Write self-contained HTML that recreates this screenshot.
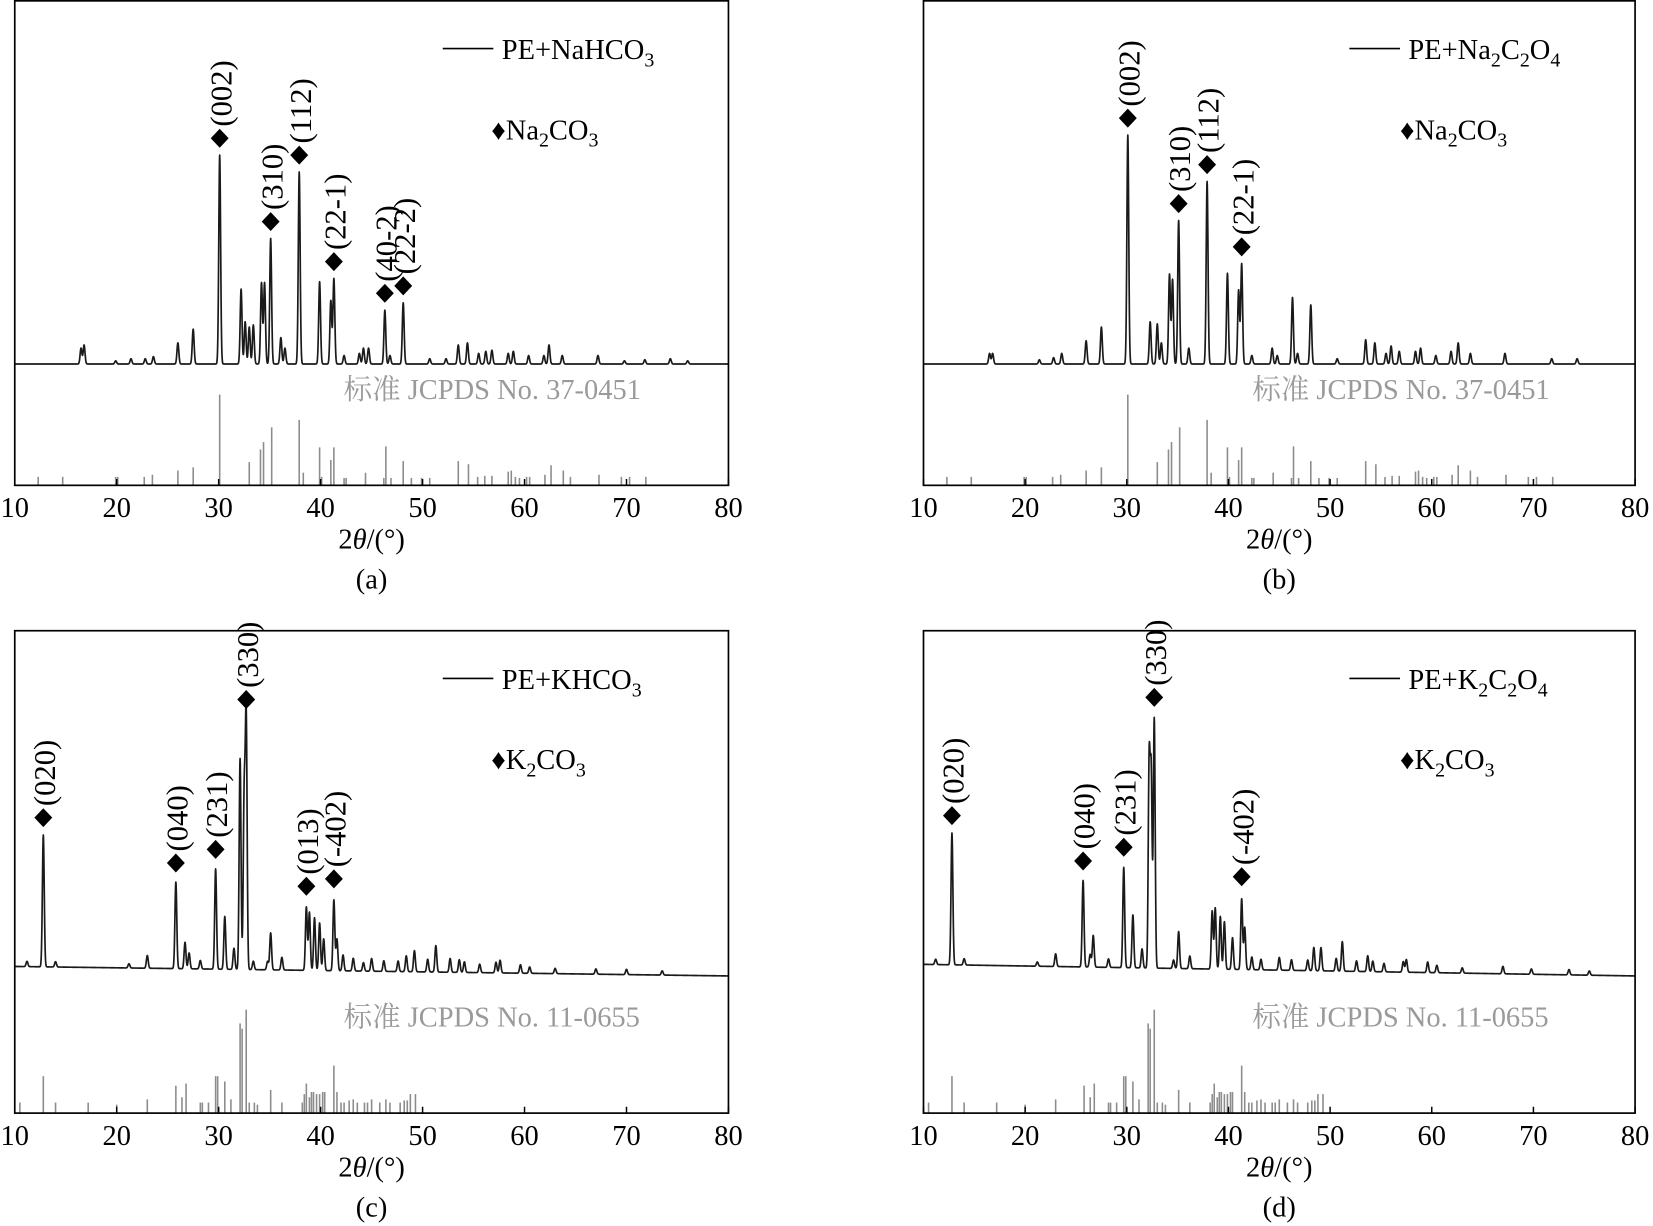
<!DOCTYPE html>
<html><head><meta charset="utf-8"><style>
html,body{margin:0;padding:0;background:#fff;}
svg{display:block;}
svg text, svg tspan{font-family:"Liberation Serif","Times New Roman",Times,serif;}
svg text.cjk{font-family:"Liberation Serif","Noto Serif CJK SC","Noto Sans CJK SC",serif;}
</style></head><body>
<svg id="fig" width="1653" height="1226" viewBox="0 0 1568 1162" preserveAspectRatio="none" xmlns="http://www.w3.org/2000/svg"></svg>
<script>
// ---- data (2θ in degrees, intensity in arbitrary units) ----
const ticks = [10,20,30,40,50,60,70,80];
const aPeakPos = [16.5,16.8,19.9,21.4,22.8,23.6,26,27.5,30.1,32.2,32.6,33,33.4,34.2,34.5,35.1,36.1,36.5,37.9,39.9,41,41.3,42.3,43.8,44.2,44.7,46.3,46.8,48.1,50.7,52.3,53.5,54.4,55.5,56.2,56.8,58.4,58.9,60.4,61.9,62.4,63.7,67.2,69.8,71.8,74.3,76];
const aPeakInt = [15,18,3,5,5,7,20,33,198,71,40,35,37,77,77,119,25,15,182,78,60,81,8,10,15,15,51,8,58,5,5,18,20,10,12,13,10,12,8,8,18,8,8,3,4,5,3];
const bPeakPos = [16.5,16.8,21.4,22.8,23.6,26,27.5,30.1,32.3,33,33.4,34.2,34.5,35.1,36.1,37.9,39.9,41,41.3,42.3,44.3,44.8,46.3,46.8,48.1,50.7,53.5,54.4,55.5,56,56.8,58.4,58.9,60.4,61.9,62.6,63.8,67.2,71.8,74.3];
const bPeakInt = [10,10,4,6,10,22,35,217,40,38,20,85,80,136,15,173,86,70,95,8,15,8,63,10,56,5,23,20,10,17,12,12,15,8,12,20,10,10,5,5];
const cPeakPos = [11.2,12.8,14,21.2,23,25.8,26.7,27.1,28.2,29.7,30.6,31.5,32.1,32.5,32.7,33.4,34.8,35.1,36.2,38.6,38.9,39.4,39.9,40.3,41.3,41.6,42.2,43.2,44.2,45,46.2,47.6,48.4,49.2,50.5,51.3,52.7,53.6,54.1,55.6,57.2,57.6,59.6,60.5,63,67,70,73.5];
const cPeakInt = [5,125,5,4,12,82,25,15,8,95,50,20,200,160,237,8,8,35,12,60,55,50,45,30,67,30,15,12,8,12,10,10,15,20,12,25,13,12,10,8,10,12,8,6,5,5,5,4];
const dPeakPos = [11.2,12.8,14,21.2,23,25.7,26.4,26.7,28.2,29.7,30.6,31.5,32.2,32.4,32.7,34.6,35.1,36.2,38.4,38.7,39.2,39.6,40.4,41.3,41.6,42.3,43.2,45,46.2,47.8,48.4,49.1,50.6,51.2,52.6,53.7,54.2,55.3,57.2,57.5,59.6,60.5,63,67,69.8,73.5,75.5];
const dPeakInt = [5,125,6,4,12,82,12,30,8,95,50,18,195,180,237,8,35,12,55,58,50,45,30,67,40,12,10,12,10,10,22,22,12,28,10,15,10,8,10,12,10,7,5,7,5,5,4];
const naRefPos = [12.3,14.7,19.9,20.1,22.7,23.5,26,27.5,30.1,33,34.1,34.4,35.2,37.9,38.3,39.9,40.1,41,41.3,42.3,42.5,44.4,46.2,46.4,46.9,48.1,48.9,49.9,50.7,53.5,54.5,55.4,56.1,56.8,58.4,58.7,59.1,59.5,60.2,60.5,62,62.6,63.8,64.5,67.3,69.5,70.3,71.9];
const naRefInt = [8,8,8,8,8,10,14,17,86,22,34,41,55,62,12,36,8,24,36,7,7,12,7,37,7,23,7,7,7,23,20,8,9,9,13,14,8,7,8,8,10,19,14,8,10,8,8,8];
const kRefPos = [10.5,12.8,14,17.2,20,23,25.8,26.4,26.8,28.2,28.4,29,29.7,29.9,30.6,31.2,32.1,32.3,32.7,33,33.5,33.8,35.1,36.2,38.2,38.4,38.6,38.9,39.1,39.3,39.6,39.9,40.2,40.4,41.3,41.6,42,42.3,42.8,43.2,43.6,44.3,44.6,45,45.8,46.4,46.8,47.8,48.2,48.5,48.8,49.3];
const kRefInt = [10,35,10,10,8,13,26,15,28,10,10,10,35,35,30,13,85,80,98,10,10,8,22,10,10,18,28,15,20,20,18,18,20,20,45,20,10,10,12,13,10,10,10,13,10,13,10,10,12,12,18,18];
const aLabels = [[30.1,"(002)"],[35.1,"(310)"],[37.9,"(112)"],[41.3,"(22-1)"],[46.3,"(40-2)"],[48.1,"(22-2)"]];
const bLabels = [[30.1,"(002)"],[35.1,"(310)"],[37.9,"(112)"],[41.3,"(22-1)"]];
const cLabels = [[12.8,"(020)"],[25.8,"(040)"],[29.7,"(231)"],[32.7,"(330)"],[38.6,"(013)"],[41.3,"(-402)"]];
const dLabels = [[12.8,"(020)"],[25.7,"(040)"],[29.7,"(231)"],[32.7,"(330)"],[41.3,"(-402)"]];

const NS = "http://www.w3.org/2000/svg";
const svg = document.getElementById('fig');
function mk(tag, attrs, parent){const e=document.createElementNS(NS,tag);for(const k in attrs)e.setAttribute(k,attrs[k]);(parent||svg).appendChild(e);return e;}

const panels = [
 {id:'a',x0:14,x1:691,top:0,bot:460,base:345,pos:aPeakPos,int:aPeakInt,rp:naRefPos,ri:naRefInt,labels:aLabels,leg:'Na',sample:['PE+NaHCO','3',''],std:['标准',' JCPDS No. 37-0451'],bg:[0,0]},
 {id:'b',x0:876,x1:1551,top:0,bot:460,base:345,pos:bPeakPos,int:bPeakInt,rp:naRefPos,ri:naRefInt,labels:bLabels,leg:'Na',sample:['PE+Na','2','C','2','O','4'],std:['标准',' JCPDS No. 37-0451'],bg:[0,0]},
 {id:'c',x0:14,x1:691,top:597,bot:1055,base:926,pos:cPeakPos,int:cPeakInt,rp:kRefPos,ri:kRefInt,labels:cLabels,leg:'K',sample:['PE+KHCO','3',''],std:['标准',' JCPDS No. 11-0655'],bg:[10,1]},
 {id:'d',x0:876,x1:1551,top:597,bot:1055,base:926,pos:dPeakPos,int:dPeakInt,rp:kRefPos,ri:kRefInt,labels:dLabels,leg:'K',sample:['PE+K','2','C','2','O','4'],std:['标准',' JCPDS No. 11-0655'],bg:[12,1]}
];

function subText(parent, x, y, parts, fs, name){
  const t = mk('text',{x:x,y:y,'font-size':fs,fill:'#000'},parent);
  
  
  parts.forEach((p,i)=>{ if(!p) return;
    const s = mk('tspan',{},t);
    if(i%2===1){s.setAttribute('font-size',fs*0.7);s.setAttribute('dy',7);} else if(i>0){s.setAttribute('dy',-7);}
    s.textContent=p;});
  return t;
}

panels.forEach(P=>{
  const g = mk('g',{});
  
  
  const X = t => P.x0 + (t-10)*(P.x1-P.x0)/70;
  const Y = v => P.base - v;
  const sig = 0.09;
  let d='';
  for(let t=10;t<=80.0001;t+=0.02){
    let v = P.bg[0] + (P.bg[1]-P.bg[0])*(t-10)/70;
    for(let i=0;i<P.pos.length;i++){const dx=t-P.pos[i]; if(Math.abs(dx)<1) v += P.int[i]*Math.exp(-dx*dx/(2*sig*sig));}
    d += (d?'L':'M')+X(t).toFixed(2)+','+Y(v).toFixed(2);
  }
  const path = mk('path',{d:d,fill:'none',stroke:'#1a1a1a','stroke-width':1.6,'stroke-linejoin':'round'},g);
  
  
  P.rp.forEach((t,i)=>{
    const l = mk('line',{x1:X(t),x2:X(t),y1:P.bot,y2:P.bot-P.ri[i],stroke:'#8c8c8c','stroke-width':1.5},g);
    
    
  });
  const fr = mk('rect',{x:P.x0,y:P.top+0.8,width:P.x1-P.x0,height:P.bot-P.top-0.8,fill:'none',stroke:'#000','stroke-width':1.6},g);
  
  
  ticks.forEach(t=>{
    mk('line',{x1:X(t),x2:X(t),y1:P.bot,y2:P.bot-6,stroke:'#000','stroke-width':1.4},g);
    const tl = mk('text',{x:X(t),y:P.bot+30,'font-size':27,'text-anchor':'middle',fill:'#000'},g);
    
    
    tl.textContent=t;
  });
  const cx=(P.x0+P.x1)/2;
  const xl = mk('text',{x:cx,y:P.bot+60,'font-size':27,'text-anchor':'middle',fill:'#000'},g);
  
  
  xl.innerHTML='2<tspan font-style="italic">θ</tspan>/(°)';
  const cap = mk('text',{x:cx,y:P.bot+98,'font-size':27,'text-anchor':'middle',fill:'#000'},g);
  
  
  cap.textContent='('+P.id+')';
  const lx = P.x0 + (P.id==='a'||P.id==='c'?406:404);
  const ll = mk('line',{x1:lx,x2:lx+48,y1:P.top+46,y2:P.top+46,stroke:'#000','stroke-width':1.5},g);
  
  
  subText(g, lx+56, P.top+56, P.sample, 27, 'legend-sample-label');
  const phaseParts = P.leg==='Na'?['♦Na','2','CO','3']:['♦K','2','CO','3'];
  subText(g, P.x0+452, P.top+132, phaseParts, 27, 'legend-phase-label');
  const sd = mk('text',{x:P.x0+312,y:P.bot-82,'font-size':27,fill:'#9a9a9a'},g);
  
  
  const s1 = mk('tspan',{},sd); s1.style.fontFamily='"Noto Serif CJK SC","Noto Sans CJK SC",serif'; s1.textContent=P.std[0];
  const s2 = mk('tspan',{},sd); s2.textContent=P.std[1];
  P.labels.forEach(L=>{
    const idx = P.pos.indexOf(L[0]);
    const yp = Y(P.int[idx] + P.bg[0]);
    const x = X(L[0]);
    const dm = mk('path',{d:`M${x},${yp-25}L${x+8.5},${yp-16}L${x},${yp-7}L${x-8.5},${yp-16}Z`,fill:'#000'},g);
    
    
    const tx = mk('text',{x:0,y:0,'font-size':29,fill:'#000',transform:`translate(${x+11},${yp-27}) rotate(-90)`},g);
    
    
    tx.textContent=L[1];
  });
});
</script>
</body></html>
